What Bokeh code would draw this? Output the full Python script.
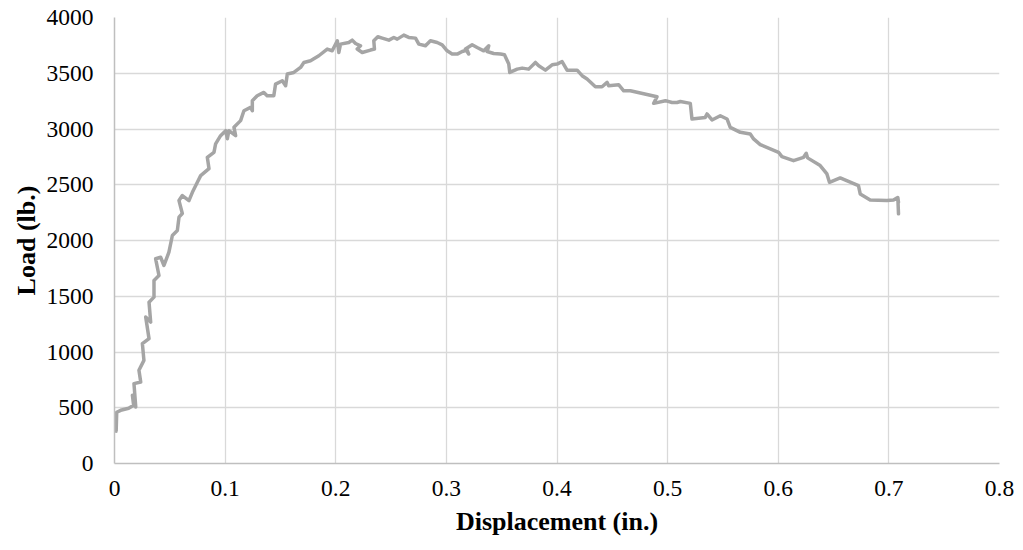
from bokeh.plotting import figure
from bokeh.models import Range1d, FixedTicker, CustomJSTickFormatter
from bokeh.embed import file_html
from bokeh.resources import INLINE

# Displacement (in.) and Load (lb.)
displacement = [0.0011, 0.0015, 0.0020, 0.0056, 0.0128, 0.0173, 0.0162, 0.0192, 0.0176, 0.0237,
                0.0221, 0.0266, 0.0252, 0.0312, 0.0282, 0.0327, 0.0312, 0.0357, 0.0357, 0.0402,
                0.0372, 0.0417, 0.0447, 0.0492, 0.0523, 0.0568, 0.0583, 0.0613, 0.0583, 0.0613,
                0.0673, 0.0704, 0.0749, 0.0779, 0.0854, 0.0839, 0.0899, 0.0914, 0.0959, 0.1005,
                0.1020, 0.1034, 0.1095, 0.1080, 0.1140, 0.1170, 0.1230, 0.1246, 0.1246, 0.1290,
                0.1350, 0.1380, 0.1440, 0.1456, 0.1517, 0.1547, 0.1562, 0.1621, 0.1682, 0.1712,
                0.1772, 0.1847, 0.1923, 0.1968, 0.2014, 0.2028, 0.2043, 0.2118, 0.2149, 0.2179,
                0.2224, 0.2194, 0.2239, 0.2314, 0.2350, 0.2344, 0.2380, 0.2420, 0.2480, 0.2525,
                0.2556, 0.2615, 0.2660, 0.2721, 0.2751, 0.2811, 0.2856, 0.2917, 0.2962, 0.3007,
                0.3052, 0.3098, 0.3143, 0.3188, 0.3202, 0.3173, 0.3233, 0.3278, 0.3338, 0.3383,
                0.3369, 0.3428, 0.3489, 0.3525, 0.3564, 0.3573, 0.3640, 0.3685, 0.3744, 0.3805,
                0.3835, 0.3895, 0.3956, 0.4001, 0.4046, 0.4091, 0.4182, 0.4227, 0.4272, 0.4347,
                0.4407, 0.4453, 0.4467, 0.4557, 0.4603, 0.4663, 0.4904, 0.4874, 0.4980, 0.5040,
                0.5085, 0.5115, 0.5205, 0.5220, 0.5340, 0.5356, 0.5401, 0.5476, 0.5537, 0.5566,
                0.5657, 0.5747, 0.5777, 0.5837, 0.6003, 0.6033, 0.6138, 0.6229, 0.6253, 0.6265,
                0.6379, 0.6440, 0.6463, 0.6560, 0.6725, 0.6741, 0.6831, 0.6982, 0.7042, 0.7072,
                0.7087, 0.7081, 0.7087]
load = [450, 290, 460, 477, 495, 522, 612, 507, 716, 731,
        836, 925, 1075, 1120, 1313, 1268, 1447, 1492, 1642, 1686,
        1836, 1850, 1776, 1895, 2045, 2089, 2209, 2242, 2358, 2403,
        2358, 2432, 2522, 2582, 2645, 2746, 2791, 2866, 2940, 2985,
        2913, 2985, 2940, 3015, 3075, 3164, 3194, 3164, 3254, 3298,
        3328, 3298, 3298, 3403, 3433, 3388, 3493, 3507, 3552, 3597,
        3612, 3657, 3717, 3702, 3791, 3686, 3761, 3776, 3797, 3767,
        3746, 3717, 3686, 3708, 3717, 3791, 3827, 3815, 3797, 3821,
        3806, 3842, 3821, 3815, 3761, 3746, 3791, 3776, 3755, 3701,
        3672, 3672, 3695, 3708, 3672, 3717, 3755, 3731, 3701, 3746,
        3695, 3677, 3672, 3666, 3582, 3507, 3537, 3546, 3537, 3597,
        3567, 3528, 3576, 3582, 3605, 3528, 3528, 3478, 3448, 3379,
        3379, 3418, 3388, 3397, 3343, 3343, 3289, 3230, 3254, 3238,
        3238, 3247, 3230, 3090, 3104, 3135, 3081, 3119, 3090, 3015,
        2970, 2955, 2911, 2860, 2791, 2752, 2716, 2746, 2782, 2741,
        2672, 2597, 2522, 2561, 2492, 2418, 2364, 2358, 2364, 2382,
        2343, 2385, 2239]

x_ticks = [0, 0.1, 0.2, 0.3, 0.4, 0.5, 0.6, 0.7, 0.8]
y_ticks = [0, 500, 1000, 1500, 2000, 2500, 3000, 3500, 4000]

FONT = "Liberation Serif"

p = figure(width=1015, height=542, output_backend="svg", toolbar_location=None,
           x_range=Range1d(0, 0.8), y_range=Range1d(0, 4000),
           min_border_left=114, min_border_right=16, min_border_top=17, min_border_bottom=79)
p.outline_line_color = None
p.background_fill_color = "white"
p.border_fill_color = "white"

p.line(displacement, load, line_color="#A5A5A5", line_width=3.5, line_join="round", line_cap="round")

p.xaxis.ticker = FixedTicker(ticks=x_ticks)
p.yaxis.ticker = FixedTicker(ticks=y_ticks)
p.xaxis.formatter = CustomJSTickFormatter(code="return String(Math.round(tick*10)/10);")

for ax in (p.xaxis, p.yaxis):
    ax.major_tick_out = 0
    ax.major_tick_in = 0
    ax.minor_tick_out = 0
    ax.minor_tick_in = 0
    ax.axis_line_color = "#BFBFBF"
    ax.axis_line_width = 1.5
    ax.major_label_text_font = FONT
    ax.major_label_text_font_size = "23.5px"
    ax.major_label_text_color = "#000000"
    ax.axis_label_text_font = FONT
    ax.axis_label_text_font_size = "26px"
    ax.axis_label_text_font_style = "bold"
    ax.axis_label_text_color = "#000000"

p.xaxis.axis_label = "Displacement (in.)"
p.yaxis.axis_label = "Load (lb.)"
p.xaxis.major_label_standoff = 17
p.xaxis.axis_label_standoff = 8
p.yaxis.major_label_standoff = 21
p.yaxis.axis_label_standoff = 3

p.xgrid.grid_line_color = "#D9D9D9"
p.ygrid.grid_line_color = "#D9D9D9"
p.xgrid.grid_line_width = 1.3
p.ygrid.grid_line_width = 1.3
p.xgrid.ticker = FixedTicker(ticks=x_ticks)
p.ygrid.ticker = FixedTicker(ticks=y_ticks)

open("out.html", "w").write(file_html(p, INLINE))
